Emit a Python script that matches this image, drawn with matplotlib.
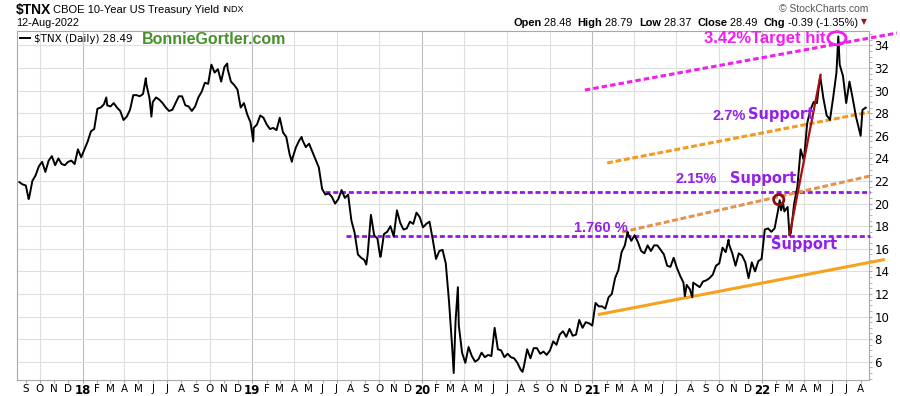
import pandas as pd
import matplotlib
matplotlib.use('Agg')
import matplotlib.pyplot as plt
import matplotlib.dates as mdates
from matplotlib.patches import Ellipse
from matplotlib.ticker import MultipleLocator

plt.rcParams['text.parse_math'] = False
plt.rcParams['font.family'] = ['DejaVu Sans']

# $TNX weekly (Friday) closes, 10 x yield
tnx_2017 = [21.9, 21.7, 21.6, 20.5, 22.0, 22.5, 23.3, 23.7, 22.8, 23.8,
            24.2, 23.4, 24.0, 23.5, 23.4, 23.7, 23.8, 23.5, 24.8, 24.1]
tnx_2018 = [24.8, 25.5, 26.4, 26.6, 28.4, 28.5, 28.8, 28.7, 28.6, 28.9,
            28.5, 28.2, 27.4, 27.7, 28.3, 29.6, 29.6, 29.5, 29.7, 30.6,
            29.3, 29.0, 29.4, 29.2, 28.9, 28.5, 28.2, 28.3, 28.9, 29.5,
            29.5, 28.7, 28.6, 28.2, 28.6, 29.4, 29.9, 30.7, 30.6, 32.3,
            31.6, 31.9, 30.8, 32.1, 31.9, 30.8, 30.5, 30.1, 28.5, 28.9,
            27.9, 27.2]
tnx_2019 = [26.7, 27.0, 27.8, 27.6, 27.0, 26.6, 26.7, 26.5, 27.6, 26.3,
            25.9, 24.4, 24.1, 25.0, 25.6, 25.6, 25.0, 25.3, 24.6, 23.9,
            23.2, 21.3, 20.8, 20.9, 20.6, 20.0, 20.4, 21.2, 20.5, 20.8,
            18.5, 17.4, 15.5, 15.2, 15.0, 15.5, 19.0, 17.2, 16.9, 15.3,
            17.3, 17.5, 18.0, 17.1, 19.4, 18.3, 17.7, 17.8, 18.4, 18.2,
            19.2, 18.8]
tnx_2020 = [17.9, 18.2, 18.4, 16.8, 15.1, 15.8, 15.9, 14.7, 11.3, 7.1,
            9.6, 9.2, 6.8, 5.9, 7.3, 6.5, 6.0, 6.2, 6.8, 6.4,
            6.6, 6.5, 9.0, 7.1, 7.0, 6.4, 6.7, 6.4, 6.3, 5.9,
            5.3, 5.6, 7.1, 6.3, 7.2, 7.2, 6.7, 6.9, 6.6, 7.0,
            7.8, 7.5, 8.4, 8.7, 8.2, 8.9, 8.3, 8.4, 9.7, 9.0,
            9.5, 9.4]
tnx_2021 = [9.2, 11.2, 10.9, 10.9, 10.7, 11.7, 12.0, 13.4, 14.1, 15.7,
            16.3, 17.3, 16.7, 17.2, 16.6, 15.8, 15.6, 16.3, 15.8, 16.3,
            16.3, 15.9, 15.5, 14.5, 14.4, 15.2, 14.3, 13.6, 13.0, 12.8,
            12.4, 13.0, 12.8, 12.6, 13.1, 13.2, 13.4, 13.7, 14.5, 14.7,
            16.1, 15.7, 16.4, 15.6, 14.5, 15.6, 15.4, 14.8, 13.4, 14.8,
            14.0, 14.9, 15.1]
tnx_2022 = [17.7, 17.8, 17.5, 17.8, 19.3, 19.4, 19.3, 19.7, 17.4, 20.0,
            21.5, 24.8, 23.8, 27.1, 28.3, 29.0, 28.9, 31.3, 29.3, 27.8,
            27.4, 29.4, 31.6, 32.3, 31.3, 28.9, 30.8, 29.3, 27.7, 26.5,
            28.3, 28.49]

# daily highs/lows between the weekly points
turn_dates = ['2017-09-07', '2018-02-21', '2018-05-17', '2018-05-29', '2018-11-08',
              '2019-01-03', '2019-03-27', '2019-04-17', '2019-09-03', '2019-10-03',
              '2020-03-09', '2020-03-18', '2020-08-04', '2021-03-18', '2021-07-19',
              '2021-08-04', '2021-10-21', '2022-02-08', '2022-02-15', '2022-03-01',
              '2022-05-26', '2022-06-14', '2022-08-01']
turn_vals = [20.4, 29.4, 31.1, 27.7, 32.4,
             25.5, 23.7, 25.9, 14.6, 15.3,
             5.0, 12.6, 5.1, 17.5, 11.8,
             11.7, 16.8, 20.3, 20.1, 17.2,
             27.5, 34.8, 26.0]

# drawn trend / support lines
support_start = ['2019-06-06', '2019-07-21']
support_level = [21.0, 17.15]
magenta_dates = ['2020-12-16', '2022-10-18']
magenta_vals = [30.05, 35.1]
orange_hi_dates = ['2021-02-02', '2022-08-21']
orange_hi_vals = [23.6, 28.1]
orange_lo_dates = ['2021-03-06', '2022-08-21']
orange_lo_vals = [17.48, 22.44]
base_dates = ['2021-01-13', '2022-09-22']
base_vals = [10.17, 15.05]
red_dates = ['2022-03-01', '2022-05-07']
red_vals = [17.2, 31.4]

weekly = tnx_2017 + tnx_2018 + tnx_2019 + tnx_2020 + tnx_2021 + tnx_2022
wdates = pd.date_range('2017-08-18', '2022-08-12', freq='W-FRI')
s = pd.concat([pd.Series(weekly, index=wdates),
               pd.Series(turn_vals, index=pd.to_datetime(turn_dates))]).sort_index()

fig = plt.figure(figsize=(9, 3.96), dpi=100)
ax = fig.add_axes([17 / 900, 16 / 396, 852 / 900, 349 / 396])

ax.set_xlim(pd.Timestamp('2017-08-13'), pd.Timestamp('2022-08-19'))
ax.set_ylim(4.38, 35.28)

# grid
ax.yaxis.set_major_locator(MultipleLocator(2))
ax.yaxis.set_minor_locator(MultipleLocator(0.5))
ax.grid(axis='y', color='#dedede', lw=0.8)
for q in pd.date_range('2017-10-01', '2022-07-01', freq='QS'):
    ax.axvline(q, color='#bdbdbd' if q.month == 1 else '#dedede', lw=0.8, zorder=0)
ax.set_axisbelow(True)

price, = ax.plot(s.index, s.values, color='black', lw=1.4, zorder=5)

purple = '#9a12ee'
for d, lv in zip(support_start, support_level):
    ax.plot([pd.Timestamp(d), pd.Timestamp('2022-08-21')], [lv, lv], color=purple,
            lw=2.0, dashes=(1.8, 1.0), zorder=4, clip_on=False)
ax.plot(pd.to_datetime(magenta_dates), magenta_vals, color='#f21ef0', lw=2.2,
        dashes=(1.8, 1.0), zorder=4, clip_on=False)
ax.plot(pd.to_datetime(orange_hi_dates), orange_hi_vals, color='#f5991f', lw=2.2,
        dashes=(1.9, 0.9), zorder=4, clip_on=False)
ax.plot(pd.to_datetime(orange_lo_dates), orange_lo_vals, color='#e5924d', lw=2.2,
        dashes=(1.9, 0.9), zorder=4, clip_on=False)
ax.plot(pd.to_datetime(base_dates), base_vals, color='#f8a11c', lw=2.2, zorder=4,
        clip_on=False, solid_capstyle='butt')
ax.plot(pd.to_datetime(red_dates), red_vals, color='#a50f10', lw=1.6, zorder=6)

ax.add_patch(Ellipse((mdates.date2num(pd.Timestamp('2022-02-06')), 20.35), 22, 0.9,
                     fill=False, ec='#8c0f0f', lw=2.0, zorder=7))
ax.add_patch(Ellipse((mdates.date2num(pd.Timestamp('2022-06-11')), 34.64), 39, 1.15,
                     fill=False, ec='#f21ef0', lw=2.0, zorder=7, clip_on=False))

# annotations
ax.text(pd.Timestamp('2022-05-17'), 34.66, '3.42%Target hit', color='#f21ef0',
        fontsize=12, fontweight='bold', family=['Liberation Sans'],
        ha='right', va='center', zorder=8)
ptxt = dict(color='#9320e6', fontweight='bold', va='center', zorder=8)
pct = dict(ptxt, fontsize=10.5, family=['Liberation Sans'])
sup = dict(ptxt, fontsize=10.5)
ax.text(pd.Timestamp('2021-09-17'), 27.76, '2.7%', **pct)
ax.text(pd.Timestamp('2021-12-01'), 27.93, 'Support', **sup)
ax.text(pd.Timestamp('2021-06-30'), 22.18, '2.15%', **pct)
ax.text(pd.Timestamp('2021-10-24'), 22.18, 'Support', **sup)
ax.text(pd.Timestamp('2020-11-22'), 17.84, '1.760 %', **pct)
ax.text(pd.Timestamp('2022-01-20'), 16.42, 'Support', **sup)

fig.text(142 / 900, 1 - 40 / 396, 'BonnieGortler.com', color='#48902c', fontsize=11.5,
         fontweight='bold', family=['Liberation Sans'], va='center')

# legend
ax.legend([price], ['$TNX (Daily) 28.49'], loc='upper left', frameon=False,
          fontsize=7.5, handlelength=0.9, handletextpad=0.4, borderaxespad=0.1,
          borderpad=0.2)

# axes look
for sp in ax.spines.values():
    sp.set_color('#a8a8a8')
    sp.set_linewidth(0.8)
ax.yaxis.tick_right()
ax.tick_params(axis='y', which='major', length=2, color='#a8a8a8', labelsize=8.5, pad=2)
ax.tick_params(axis='y', which='minor', length=2, color='#a8a8a8')
ax.set_yticks(range(6, 35, 2))

months = pd.date_range('2017-09-01', '2022-08-01', freq='MS')
letters = 'JFMAMJJASOND'
labels = [m.strftime('%y') if m.month == 1 else letters[m.month - 1] for m in months]
ax.set_xticks(months)
ax.set_xticklabels(labels)
ax.tick_params(axis='x', length=2, color='#a8a8a8', labelsize=7.5, pad=1)
for t, m in zip(ax.get_xticklabels(), months):
    if m.month == 1:
        t.set_fontweight('bold')
        t.set_fontsize(8.5)

# header
hdr = ['Liberation Sans']
fig.text(16 / 900, 1 - 10 / 396, '$TNX', fontsize=10, fontweight='bold', family=hdr, va='center')
fig.text(53 / 900, 1 - 10 / 396, 'CBOE 10-Year US Treasury Yield', fontsize=8, family=hdr, va='center')
fig.text(222 / 900, 1 - 10 / 396, 'INDX', fontsize=6.5, family=hdr, va='center')
fig.text(16 / 900, 1 - 23 / 396, '12-Aug-2022', fontsize=7.8, family=hdr, va='center')
fig.text(868 / 900, 1 - 9 / 396, '\u00a9 StockCharts.com', fontsize=7.5, color='#555555',
         family=hdr, ha='right', va='center')

pieces = [('Open', 'bold'), (' 28.48  ', 'normal'), ('High', 'bold'), (' 28.79  ', 'normal'),
          ('Low', 'bold'), (' 28.37  ', 'normal'), ('Close', 'bold'), (' 28.49  ', 'normal'),
          ('Chg', 'bold'), (' -0.39 (-1.35%) ', 'normal')]
prev = fig.text(513 / 900, 1 - 23 / 396, pieces[0][0], fontsize=7.9, fontweight='bold',
                family=hdr, va='center')
for txt, w in pieces[1:]:
    prev = ax.annotate(txt, xy=(1, 0), xycoords=prev, xytext=(0, 0), textcoords='offset points',
                       fontsize=7.9, fontweight=w, family=hdr, va='bottom',
                       annotation_clip=False)
ax.annotate('\u25bc', xy=(1, 0.15), xycoords=prev, fontsize=5.5, color='#8c1a1a',
            va='bottom', annotation_clip=False)

fig.savefig('out.png', dpi=100)
